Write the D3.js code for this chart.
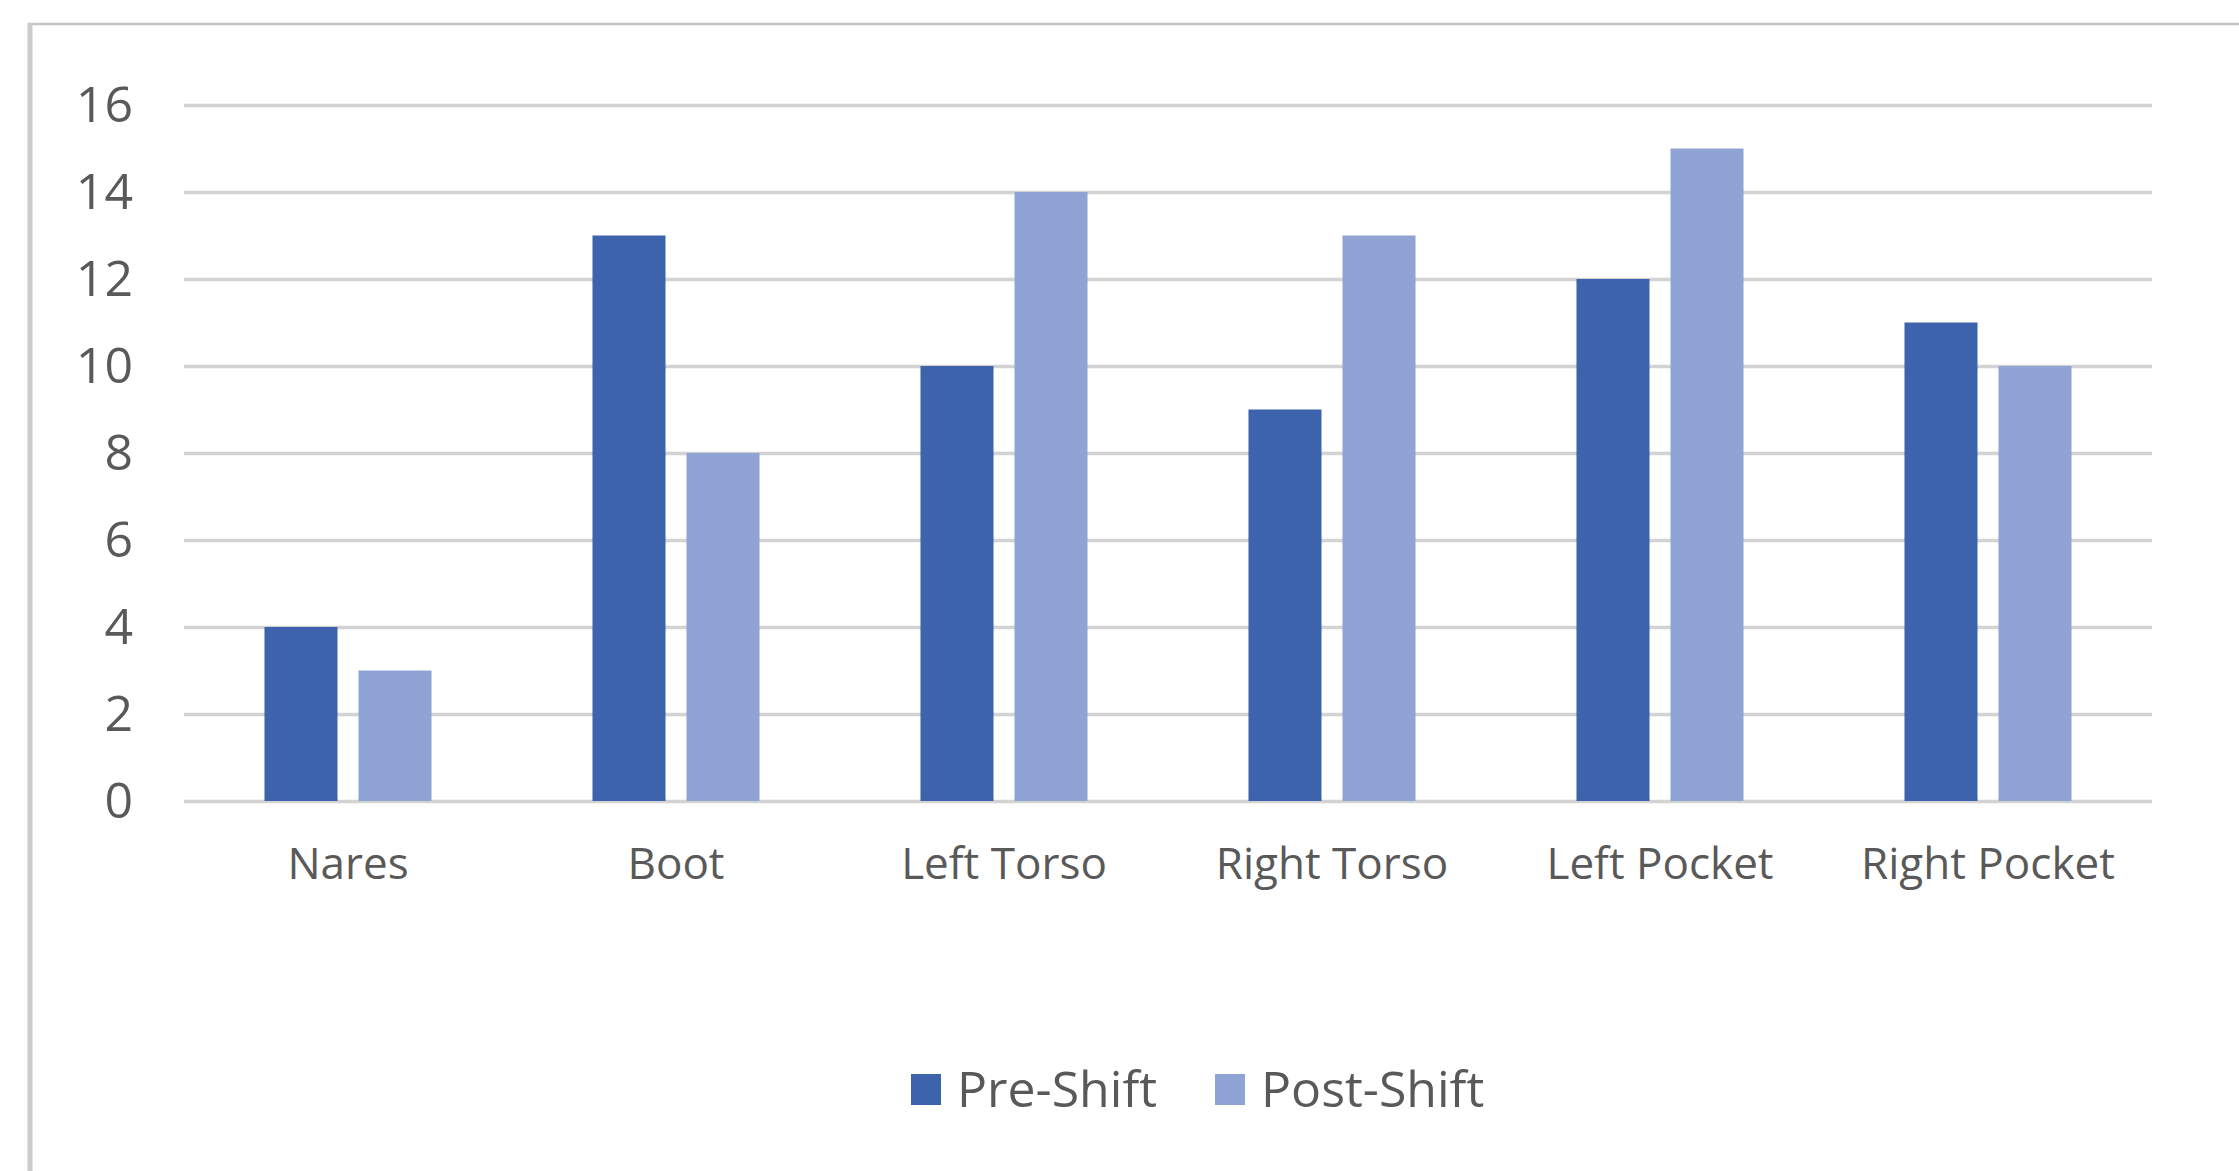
<!DOCTYPE html>
<html>
<head>
<meta charset="utf-8">
<script src="https://cdn.jsdelivr.net/npm/d3@7"></script>
<style>
  html, body { margin: 0; padding: 0; background: #ffffff; }
  svg { display: block; }
  text { font-family: "Open Sans", "Noto Sans", sans-serif; fill: #595959; }
</style>
</head>
<body>
<svg id="chart" width="2239" height="1171"></svg>
<script>
const categories = ["Nares", "Boot", "Left Torso", "Right Torso", "Left Pocket", "Right Pocket"];
const seriesNames = ["Pre-Shift", "Post-Shift"];
const preShift = [4, 13, 10, 9, 12, 11];
const postShift = [3, 8, 14, 13, 15, 10];
const yTicks = [0, 2, 4, 6, 8, 10, 12, 14, 16];
const colors = ["#3C63AB", "#8FA3D4"];

(function () {
const svg = d3.select("#chart");
const W = 2239, H = 1171;
const mLeft = 184, mRight = 2152, mTop = 105, mBottom = 801;

// frame (top and left edges of the chart area)
svg.append("line").attr("x1", 28).attr("x2", W).attr("y1", 24).attr("y2", 24)
  .attr("stroke", "#c4c4c4").attr("stroke-width", 2.5);
svg.append("line").attr("x1", 30).attr("x2", 30).attr("y1", 23).attr("y2", H)
  .attr("stroke", "#cccccc").attr("stroke-width", 5);

const x0 = d3.scaleBand().domain(categories).range([mLeft, mRight]).paddingInner(0).paddingOuter(0);
const x1 = d3.scaleBand().domain(seriesNames).range([0, x0.bandwidth()])
  .paddingInner(0.2234).paddingOuter(0.856);
const y = d3.scaleLinear().domain([0, 16]).range([mBottom, mTop]);

// y axis with gridlines
const yAxis = svg.append("g").attr("transform", `translate(${mLeft},0)`)
  .call(d3.axisLeft(y).tickValues(yTicks).tickSize(-(mRight - mLeft)).tickPadding(51).tickFormat(d3.format("d")));
yAxis.select(".domain").remove();
yAxis.selectAll(".tick line").attr("stroke", "#d3d3d3").attr("stroke-width", 3.5);
yAxis.selectAll(".tick text").style("font-size", "50px").attr("fill", "#595959");

// bars
const data = categories.map((c, i) => ({ cat: c, vals: [preShift[i], postShift[i]] }));
const groups = svg.append("g").selectAll("g").data(data).join("g")
  .attr("transform", d => `translate(${x0(d.cat)},0)`);
groups.selectAll("rect").data(d => d.vals.map((v, j) => ({ s: seriesNames[j], v, j })))
  .join("rect")
  .attr("x", d => x1(d.s))
  .attr("width", x1.bandwidth())
  .attr("y", d => y(d.v))
  .attr("height", d => y(0) - y(d.v))
  .attr("fill", d => colors[d.j]);

// x axis labels
const xAxis = svg.append("g").attr("transform", `translate(0,${mBottom})`)
  .call(d3.axisBottom(x0).tickSize(0).tickPadding(47));
xAxis.select(".domain").remove();
xAxis.selectAll(".tick text").style("font-size", "44px").attr("fill", "#595959");

// legend
const legendItems = [
  { name: seriesNames[0], color: colors[0], x: 911 },
  { name: seriesNames[1], color: colors[1], x: 1215 }
];
const lg = svg.append("g");
legendItems.forEach(it => {
  lg.append("rect").attr("x", it.x).attr("y", 1074).attr("width", 30).attr("height", 31).attr("fill", it.color);
  lg.append("text").attr("x", it.x + 46).attr("y", 1107).style("font-size", "50px").text(it.name);
});
})();
</script>
</body>
</html>
